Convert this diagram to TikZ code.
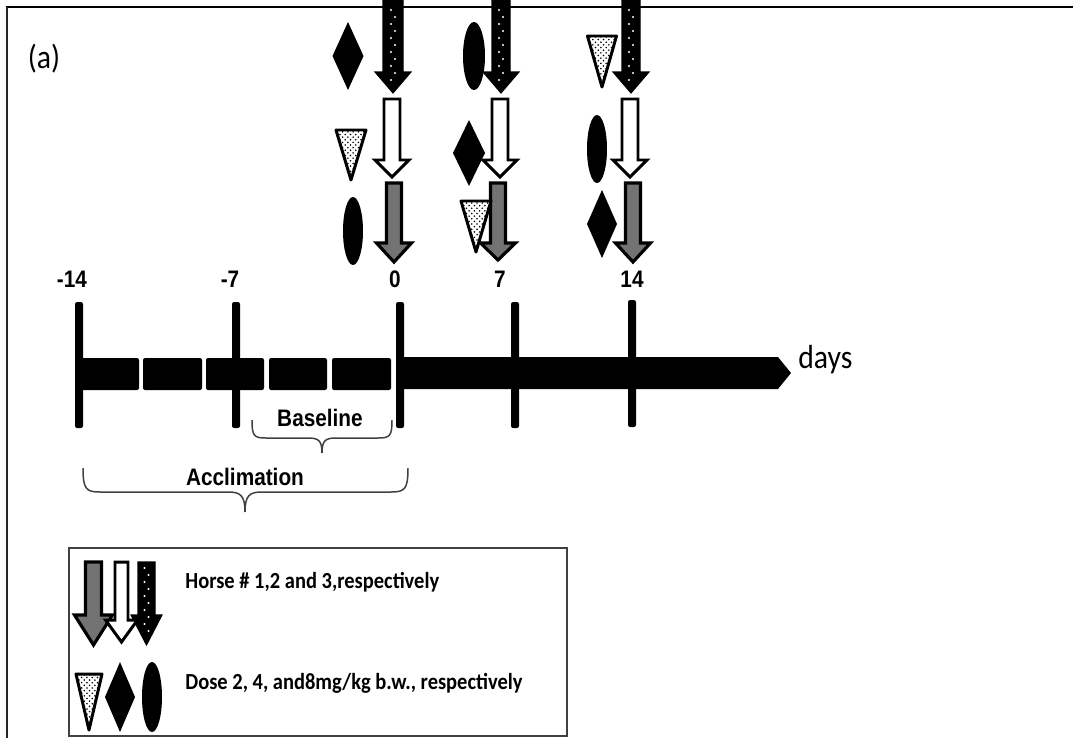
\documentclass[tikz,border=0pt]{standalone}
\usepackage{fontspec}
\setmainfont{Carlito}[FakeStretch=0.89]
\newfontfamily\arialf{Liberation Sans}[FakeStretch=0.87]
\usetikzlibrary{patterns}

\tikzset{
  tl/.style={font=\arialf\bfseries\fontsize{13.6}{16}\selectfont, inner sep=0pt},
  lg/.style={font=\bfseries\fontsize{13.1}{15}\selectfont, inner sep=0pt, anchor=west},
  bigtxt/.style={font=\fontsize{19}{22}\selectfont, inner sep=0pt},
  hone/.style={fill=black!55, draw=black, line width=1.8pt, line join=miter},
  htwo/.style={fill=white, draw=black, line width=1.7pt, line join=miter},
  hthree/.style={fill=black, draw=black, line width=0.6pt},
  tri/.style={fill=white, draw=black, line width=1.7pt, line join=round, postaction={pattern=crosshatch dots}},
  bracestyle/.style={draw=black!75, line width=0.85pt},
  seg/.style={fill=black, rounded corners=1.2pt},
  tickbar/.style={fill=black, rounded corners=1.2pt}
}

% xc, ytop, yhead, ytip, shaft half, head half, style
\newcommand\hdarrow[7]{%
  \draw[#7] (#1-#5,#2) -- (#1+#5,#2) -- (#1+#5,#3) -- (#1+#6,#3) -- (#1,#4)
     -- (#1-#6,#3) -- (#1-#5,#3) -- cycle;}
% xc, yfirst, count : white dots for horse 3
\newcommand\hwdots[3]{%
  \foreach \k in {1,...,#3}{%
    \pgfmathsetmacro\yy{#2+(\k-1)*7}%
    \pgfmathsetmacro\xx{#1+2*(-1)^\k}%
    \fill[white] (\xx,\yy) circle (1.1);}}
\newcommand\hdiamond[4]{\fill (#1-#3,#2) -- (#1,#2-#4) -- (#1+#3,#2) -- (#1,#2+#4) -- cycle;}
\newcommand\htri[4]{\draw[tri] (#1-#3,#2) -- (#1+#3,#2) -- (#1,#4) -- cycle;}

\begin{document}
\begin{tikzpicture}[x=0.02cm,y=-0.02cm]
\useasboundingbox (0,0) rectangle (1073,738);

% frame
\draw[line width=1.7pt] (6,7) -- (1073,7);
\draw[line width=1.1pt, black!85] (7,7) -- (7,738);

\node[bigtxt] (lbla) at (44,59) {(a)};

% timeline
\fill[seg] (80,358) rectangle (139,390);
\fill[seg] (143,358) rectangle (202,390);
\fill[seg] (206,358) rectangle (264,390);
\fill[seg] (269,358) rectangle (327,390);
\fill[seg] (332,358) rectangle (391,390);
\fill (396,357) -- (778,357) -- (791,373) -- (778,389) -- (396,389) -- cycle;
\fill[tickbar] (75,302) rectangle (83,428);
\fill[tickbar] (232,302) rectangle (240,428);
\fill[tickbar] (396,302) rectangle (404,428);
\fill[tickbar] (511,302) rectangle (519,428);
\fill[tickbar] (628,300) rectangle (636,427);
\node[bigtxt, anchor=west] (days) at (798,360) {days};

\node[tl] (tm14) at (72,279) {-14};
\node[tl] (tm7) at (230,279) {-7};
\node[tl] (t0) at (395,279) {0};
\node[tl] (t7) at (500,279) {7};
\node[tl] (t14) at (632,279) {14};

% braces
\draw[bracestyle] (252,420) .. controls (252,436) and (254,438) .. (266,438) -- (308,438)
  .. controls (318,438) and (322,440) .. (322,453)
  .. controls (322,440) and (326,438) .. (336,438) -- (378,438)
  .. controls (390,438) and (392,436) .. (392,420);
\node[tl] (baseline) at (320,418) {Baseline};
\draw[bracestyle] (83,468) .. controls (83,489) and (86,492) .. (100,492) -- (228,492)
  .. controls (240,492) and (245,495) .. (245,512)
  .. controls (245,495) and (250,492) .. (262,492) -- (391,492)
  .. controls (405,492) and (408,489) .. (408,468);
\node[tl] (acclim) at (245,477) {Acclimation};

% column day 0
\hdarrow{393}{0}{72}{93}{10}{18}{hthree}
\hwdots{393}{10}{11}
\hdarrow{392}{99}{160}{177}{8}{17}{htwo}
\hdarrow{394}{183}{243}{262}{7.5}{17.5}{hone}
\hdiamond{348}{56}{15.5}{34}
\htri{351}{130}{15}{180}
\fill (353,231) ellipse (10 and 34);

% column day 7
\hdarrow{501}{0}{72}{93}{9}{18}{hthree}
\hwdots{501}{10}{11}
\hdarrow{500}{99}{160}{177}{8}{17}{htwo}
\hdarrow{498}{183}{243}{260}{7.5}{17.5}{hone}
\fill (474,56) ellipse (11 and 34);
\hdiamond{469}{153}{16}{33}
\htri{476}{201}{15}{252}

% column day 14
\hdarrow{631}{0}{72}{93}{9}{18}{hthree}
\hwdots{631}{10}{11}
\hdarrow{630}{99}{160}{177}{8}{17}{htwo}
\hdarrow{633}{183}{243}{262}{7.5}{17.5}{hone}
\htri{602}{36}{14.5}{87}
\fill (597,149) ellipse (10 and 34);
\hdiamond{602}{224}{15}{34}

% legend
\draw[black!75, line width=0.85pt] (69,548) rectangle (567,736);
\hdarrow{93.5}{562}{615}{645}{8}{19}{hone}
\hdarrow{146.5}{562}{615}{645}{8.5}{15.5}{hthree}
\hwdots{146.5}{568}{10}
\hdarrow{121.5}{562}{620}{642}{6.5}{16}{htwo}
\htri{89}{674}{13}{730}
\hdiamond{120}{697}{15}{35}
\fill (152,697) ellipse (10 and 35);
\node[lg] (leg1) at (185,582) {Horse \# 1,2 and 3,respectively};
\node[lg] (leg2) at (185,683) {Dose 2, 4, and8mg/kg b.w., respectively};
\end{tikzpicture}
\end{document}
